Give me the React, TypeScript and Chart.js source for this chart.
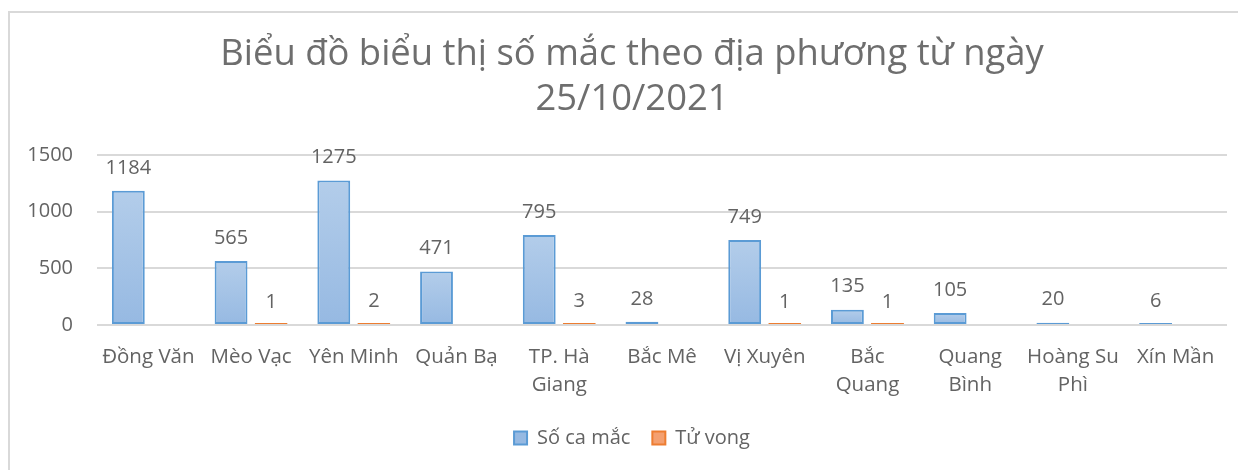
import React, { useEffect, useRef } from "react";
import { Chart, registerables } from "chart.js";

Chart.register(...registerables);

const categories: (string | string[])[] = [
  "Đồng Văn",
  "Mèo Vạc",
  "Yên Minh",
  "Quản Bạ",
  ["TP. Hà", "Giang"],
  "Bắc Mê",
  "Vị Xuyên",
  ["Bắc", "Quang"],
  ["Quang", "Bình"],
  ["Hoàng Su", "Phì"],
  "Xín Mần",
];
const soCaMac: (number | null)[] = [1184, 565, 1275, 471, 795, 28, 749, 135, 105, 20, 6];
const tuVong: (number | null)[] = [null, 1, 2, null, 3, null, 1, 1, null, null, null];
const titleLines = ["Biểu đồ biểu thị số mắc theo địa phương từ ngày", "25/10/2021"];
const yTicks = [0, 500, 1000, 1500];

const FONT = "'Open Sans', 'Noto Sans', sans-serif";
const TEXT = "#636363";

function gradient(chart: any, ctx: any, top: string, bottom: string, solid: string) {
  const yScale = chart.scales?.y;
  const v = ctx.parsed?.y;
  if (!yScale || v == null || !chart.ctx) return solid;
  const y0 = yScale.getPixelForValue(v);
  const y1 = yScale.getPixelForValue(0);
  if (!isFinite(y0) || !isFinite(y1) || Math.abs(y1 - y0) < 3) return solid;
  const g = chart.ctx.createLinearGradient(0, y0, 0, y1);
  g.addColorStop(0, top);
  g.addColorStop(1, bottom);
  return g;
}

const valueLabels = {
  id: "valueLabels",
  afterDatasetsDraw(chart: any) {
    const ctx = chart.ctx;
    const y = chart.scales.y;
    ctx.save();
    ctx.font = `20px ${FONT}`;
    ctx.fillStyle = TEXT;
    ctx.textAlign = "center";
    ctx.textBaseline = "middle";
    chart.data.datasets.forEach((ds: any, di: number) => {
      const meta = chart.getDatasetMeta(di);
      meta.data.forEach((bar: any, i: number) => {
        const v = ds.data[i];
        if (v == null) return;
        ctx.fillText(String(v), bar.x, y.getPixelForValue(v) - 23);
      });
    });
    ctx.restore();
  },
};

export default function App() {
  const ref = useRef<HTMLCanvasElement>(null);
  useEffect(() => {
    document.documentElement.style.overflow = "hidden";
    document.body.style.overflow = "hidden";
    const chart = new Chart(ref.current!, {
      type: "bar",
      data: {
        labels: categories,
        datasets: [
          {
            label: "Số ca mắc",
            data: soCaMac,
            backgroundColor: (c: any) => gradient(c.chart, c, "#b3cdea", "#96b9e2", "#8fb4e0"),
            borderColor: "#5b9bd5",
            borderWidth: 2,
            borderSkipped: false,
            minBarLength: 2,
            barPercentage: 0.82,
            categoryPercentage: 0.78,
          },
          {
            label: "Tử vong",
            data: tuVong,
            backgroundColor: (c: any) => gradient(c.chart, c, "#f8c9a8", "#f4a97a", "#f4a070"),
            borderColor: "#ed7d31",
            borderWidth: 2,
            borderSkipped: false,
            minBarLength: 2,
            barPercentage: 0.82,
            categoryPercentage: 0.78,
          },
        ],
      },
      options: {
        animation: false,
        responsive: false,
        layout: { padding: { left: 27, right: 19, top: 0, bottom: 12 } },
        plugins: {
          title: {
            display: true,
            text: titleLines,
            color: "#6e6e6e",
            font: { family: FONT, size: 36.4, weight: "normal", lineHeight: 1.236 },
            padding: { top: 19.5, bottom: 32.5 },
          },
          legend: {
            display: true,
            position: "bottom",
            labels: {
              color: TEXT,
              font: { family: FONT, size: 20 },
              boxWidth: 13,
              boxHeight: 13,
              padding: 22,
            },
          },
          tooltip: { enabled: false },
        },
        scales: {
          x: {
            grid: { display: false, drawTicks: false },
            border: { display: false },
            ticks: {
              color: TEXT,
              font: { family: FONT, size: 20.5, lineHeight: 1.37 },
              padding: 18,
              maxRotation: 0,
              autoSkip: false,
            },
            afterFit: (s: any) => {
              s.height = 81;
            },
          },
          y: {
            min: 0,
            max: 1500,
            grid: { color: "#d9d9d9", lineWidth: 2, drawTicks: false },
            border: { display: false },
            afterBuildTicks: (s: any) => {
              s.ticks = yTicks.map((v) => ({ value: v }));
            },
            ticks: {
              color: TEXT,
              font: { family: FONT, size: 20 },
              padding: 24,
              callback: (v: any) => String(v),
            },
            afterFit: (s: any) => {
              s.width = 60;
              s._computeLabelArea = () => undefined;
            },
          },
        },
      },
      plugins: [valueLabels],
    } as any);
    return () => chart.destroy();
  }, []);
  return (
    <div
      style={{
        marginTop: 3,
        width: 1236,
        height: 457,
        borderTop: "2px solid #d9d9d9",
        borderLeft: "2px solid #d9d9d9",
        background: "#fff",
      }}
    >
      <canvas ref={ref} width={1236} height={457} style={{ display: "block" }} />
    </div>
  );
}
